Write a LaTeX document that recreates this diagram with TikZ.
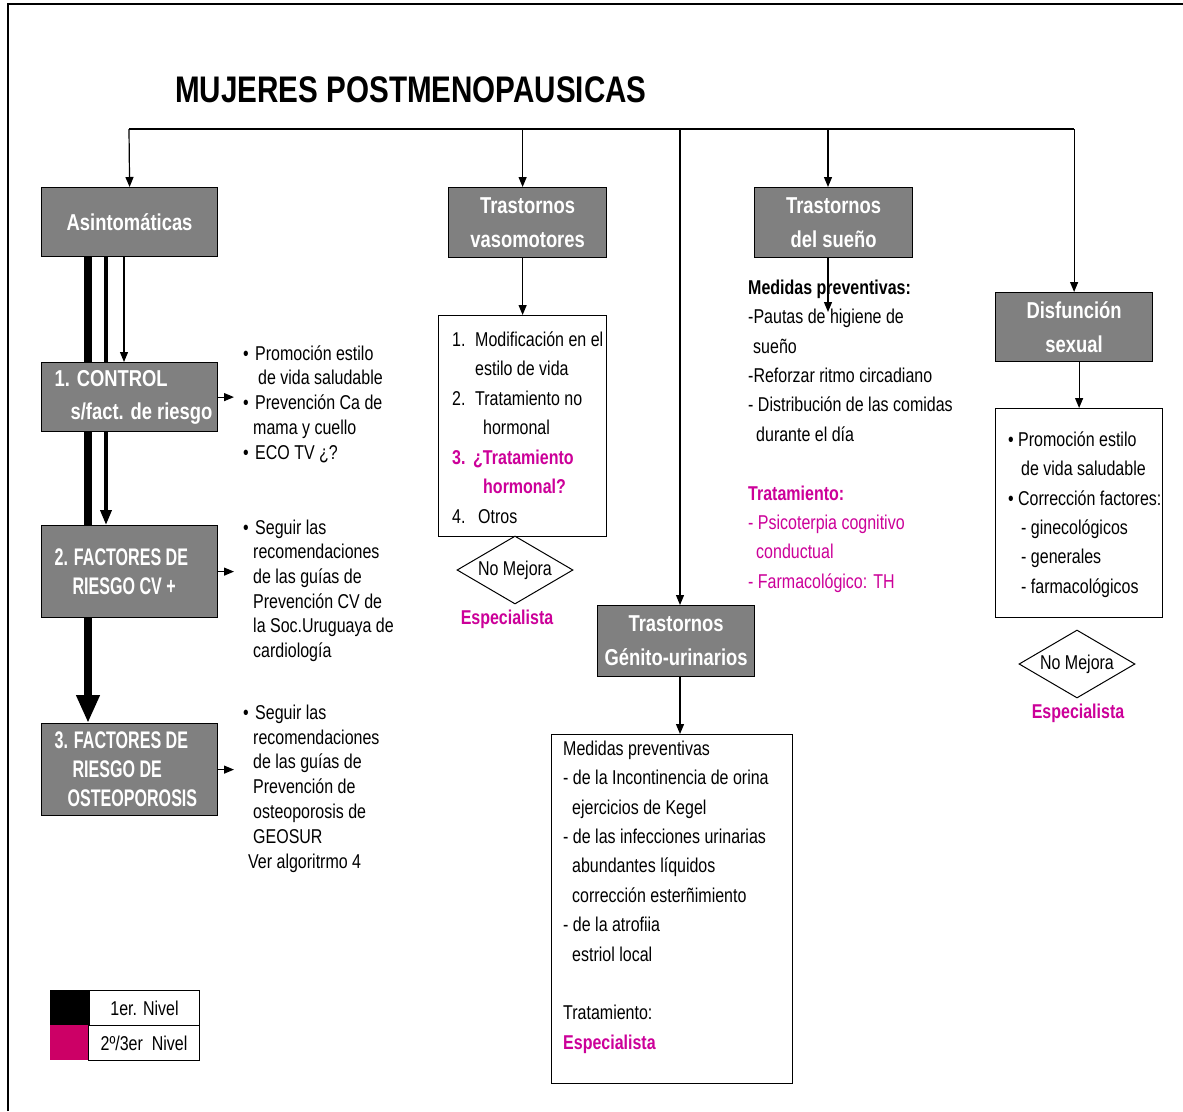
\documentclass[tikz,border=0pt]{standalone}
\usepackage{fontspec}
\setmainfont{Liberation Sans}[FakeStretch=0.8]
\newfontfamily\tightfont{Liberation Sans}[FakeStretch=0.67]
\usetikzlibrary{arrows.meta,shapes.geometric}
\pgfdeclarelayer{background}
\pgfdeclarelayer{paper}
\pgfsetlayers{paper,background,main}

\definecolor{boxgray}{HTML}{808080}
\definecolor{accent}{HTML}{CC0099}
\definecolor{levelmag}{HTML}{CC0066}

% strut that fixes the height of the first line of a text block
\newcommand\lineup{\rule{0pt}{19pt}}
\newcommand\bul{\makebox[12pt][l]{•}}

\begin{document}
\begin{tikzpicture}[x=1pt,y=-1pt,
  graybox/.style={draw=black, line width=1.2pt, fill=boxgray, text=white,
    inner sep=0pt, anchor=north west, font=\bfseries\fontsize{23}{34}\selectfont},
  factbox/.style={graybox, font=\tightfont\bfseries\fontsize{24}{29}\selectfont},
  listbox/.style={draw=black, line width=1.2pt, inner sep=0pt, anchor=north west},
  txt/.style={anchor=north west, inner sep=0pt, align=left, font=\fontsize{20}{#1}\selectfont},
  decision/.style={diamond, draw=black, line width=1pt, inner sep=0pt, shape aspect=1.7,
    minimum width=116pt, minimum height=68pt, font=\fontsize{20}{24}\selectfont},
  spec/.style={anchor=base, inner sep=0pt, text=accent, font=\bfseries\fontsize{20}{24}\selectfont},
  arr/.style={line width=1.2pt, -{Triangle[length=10pt,width=8pt]}},
  medarr/.style={line width=3.5pt, -{Triangle[length=15pt,width=11pt]}},
  bigarr/.style={line width=7.5pt, -{Triangle[length=28pt,width=22pt]}},
  legtxt/.style={draw=black, line width=1pt, anchor=north west, inner sep=0pt,
    font=\fontsize{20}{24}\selectfont}
]
\useasboundingbox (0,0) rectangle (1183,1111);
\begin{pgfonlayer}{paper}
  \fill[white] (0,0) rectangle (1183,1111);
\end{pgfonlayer}

% outer frame
\draw[line width=2.3pt] (8,1111) -- (8,4) -- (1183,4);

% title
\node[anchor=base west, inner sep=0pt, font=\bfseries\fontsize{37}{40}\selectfont] (title)
  at (175,102) {MUJERES POSTMENOPAUSICAS};

% ---- gray category boxes
\node[graybox, minimum width=176pt, minimum height=69pt, text width=170pt, align=flush center]
  (asin) at (41,187) {Asintomáticas};
\node[graybox, minimum width=158pt, minimum height=70pt, text width=150pt, align=flush center]
  (vaso) at (448,187) {Trastornos\\vasomotores};
\node[graybox, minimum width=158pt, minimum height=70pt, text width=150pt, align=flush center]
  (sue) at (754,187) {Trastornos\\del sueño};
\node[graybox, minimum width=157pt, minimum height=69pt, text width=150pt, align=flush center]
  (dis) at (995,292) {Disfunción\\sexual};
\node[graybox, minimum width=157pt, minimum height=71pt, text width=150pt, align=flush center]
  (gen) at (597,605) {Trastornos\\Génito-urinarios};

% ---- risk factor boxes
\node[graybox, font=\bfseries\fontsize{23}{33}\selectfont, minimum width=176pt,
  minimum height=69pt, text width=174pt, align=flush left]
  (ctrl) at (41,362) {\hspace*{12pt}1. CONTROL\\\hspace*{28pt}s/fact. de riesgo};
\node[factbox, minimum width=176pt, minimum height=92pt, text width=174pt, align=flush left]
  (f2) at (41,525) {\hspace*{12pt}2. FACTORES DE\\\hspace*{30pt}RIESGO CV +};
\node[factbox, minimum width=176pt, minimum height=92pt, text width=174pt, align=flush left]
  (f3) at (41,723) {\hspace*{12pt}3. FACTORES DE\\\hspace*{30pt}RIESGO DE\\\hspace*{25pt}OSTEOPOROSIS};

% ---- recommendations beside the risk factor boxes
\node[txt=24.7] (a1) at (243,341) {\lineup\bul Promoción estilo\\
  \hspace*{15pt}de vida saludable\\
  \bul Prevención Ca de\\
  \hspace*{10pt}mama y cuello\\
  \bul ECO TV ¿?};
\node[txt=24.6] (a2) at (243,515) {\lineup\bul Seguir las\\
  \hspace*{10pt}recomendaciones\\
  \hspace*{10pt}de las guías de\\
  \hspace*{10pt}Prevención CV de\\
  \hspace*{10pt}la Soc.Uruguaya de\\
  \hspace*{10pt}cardiología};
\node[txt=24.8] (a3) at (243,700) {\lineup\bul Seguir las\\
  \hspace*{10pt}recomendaciones\\
  \hspace*{10pt}de las guías de\\
  \hspace*{10pt}Prevención de\\
  \hspace*{10pt}osteoporosis de\\
  \hspace*{10pt}GEOSUR\\
  \hspace*{5pt}Ver algoritrmo 4};

% ---- vasomotor branch
\node[listbox, minimum width=168pt, minimum height=221pt] (vlist) at (438,315) {};
\node[txt=29.5] (vtxt) at (452,327) {\lineup\makebox[23pt][l]{1.}Modificación en el\\
  \hspace*{23pt}estilo de vida\\
  \makebox[23pt][l]{2.}Tratamiento no\\
  \hspace*{31pt}hormonal\\
  {\color{accent}\bfseries\makebox[21pt][l]{3.}¿Tratamiento}\\
  {\color{accent}\bfseries\hspace*{31pt}hormonal?}\\
  \makebox[26pt][l]{4.}Otros};
\node[decision] (vdec) at (515,570) {No Mejora};
\node[spec] (vesp) at (507,624) {Especialista};

% ---- sleep branch
\node[txt=29.4] (stxt) at (748,275) {\lineup\textbf{Medidas preventivas:}\\
  -Pautas de higiene de\\
  \hspace*{5pt}sueño\\
  -Reforzar ritmo circadiano\\
  - Distribución de las comidas\\
  \hspace*{8pt}durante el día\\
  \mbox{}\\
  {\color{accent}\bfseries Tratamiento:}\\
  {\color{accent}- Psicoterpia cognitivo}\\
  {\color{accent}\hspace*{8pt}conductual}\\
  {\color{accent}- Farmacológico: TH}};

% ---- sexual dysfunction branch
\node[listbox, minimum width=167pt, minimum height=209pt] (dlist) at (995,408) {};
\node[txt=29.4] (dtxt) at (1008,427) {\lineup\makebox[10pt][l]{•}Promoción estilo\\
  \hspace*{13pt}de vida saludable\\
  \makebox[10pt][l]{•}Corrección factores:\\
  \hspace*{13pt}- ginecológicos\\
  \hspace*{13pt}- generales\\
  \hspace*{13pt}- farmacológicos};
\node[decision] (ddec) at (1077,664) {No Mejora};
\node[spec] (desp) at (1078,718) {Especialista};

% ---- genito-urinary branch
\node[listbox, minimum width=241pt, minimum height=349pt] (glist) at (551,734) {};
\node[txt=29.4] (gtxt) at (563,736) {\lineup Medidas preventivas\\
  - de la Incontinencia de orina\\
  \hspace*{9pt}ejercicios de Kegel\\
  - de las infecciones urinarias\\
  \hspace*{9pt}abundantes líquidos\\
  \hspace*{9pt}corrección esterñimiento\\
  - de la atrofiia\\
  \hspace*{9pt}estriol local\\
  \mbox{}\\
  Tratamiento:\\
  {\color{accent}\bfseries Especialista}};

% ---- legend
\node[fill=black, minimum width=39pt, minimum height=35pt, inner sep=0pt, anchor=north west]
  (lk1) at (50,990) {};
\node[fill=levelmag, minimum width=38pt, minimum height=35pt, inner sep=0pt, anchor=north west]
  (lk2) at (50,1025) {};
\node[legtxt, minimum width=110pt, minimum height=35pt] (lt1) at (89,990) {1er. Nivel};
\node[legtxt, minimum width=111pt, minimum height=35pt] (lt2) at (88,1025) {2º/3er\ \ Nivel};

% ---- connectors
\coordinate (busL) at (129,129);
\coordinate (genx) at (680,0);
\coordinate (suex) at (828,312);
\coordinate (tipx) at (234,0);

\draw[line width=1.5pt] (busL) -- (dis.north |- busL);
\draw[arr] (busL) -- (asin.north);
\draw[arr] (vlist.north |- busL) -- (vlist.north |- vaso.north);
\draw[arr] (genx |- busL) -- (genx |- gen.north);
\draw[arr] (suex |- busL) -- (suex |- sue.north);
\draw[arr] (dis.north |- busL) -- (dis.north);

\draw[arr] (vaso.south -| vlist.north) -- (vlist.north);
\draw[arr] (suex |- sue.south) -- (suex);
\draw[arr] (dis.south -| dlist.north) -- (dlist.north);
\draw[arr] (genx |- gen.south) -- (genx |- glist.north);

\draw[arr] (ctrl.east) -- (ctrl.east -| tipx);
\draw[arr] (f2.east) -- (f2.east -| tipx);
\draw[arr] (f3.east) -- (f3.east -| tipx);

% level arrows from the asymptomatic box run behind the factor boxes
\begin{pgfonlayer}{background}
  \draw[arr] ([xshift=83pt]asin.south west) -- ([xshift=83pt]ctrl.north west);
  \draw[medarr] ([xshift=65pt]asin.south west) -- ([xshift=65pt]f2.north west);
  \draw[bigarr] ([xshift=47pt]asin.south west) -- ([xshift=47pt]f3.north west);
\end{pgfonlayer}
\end{tikzpicture}
\end{document}
